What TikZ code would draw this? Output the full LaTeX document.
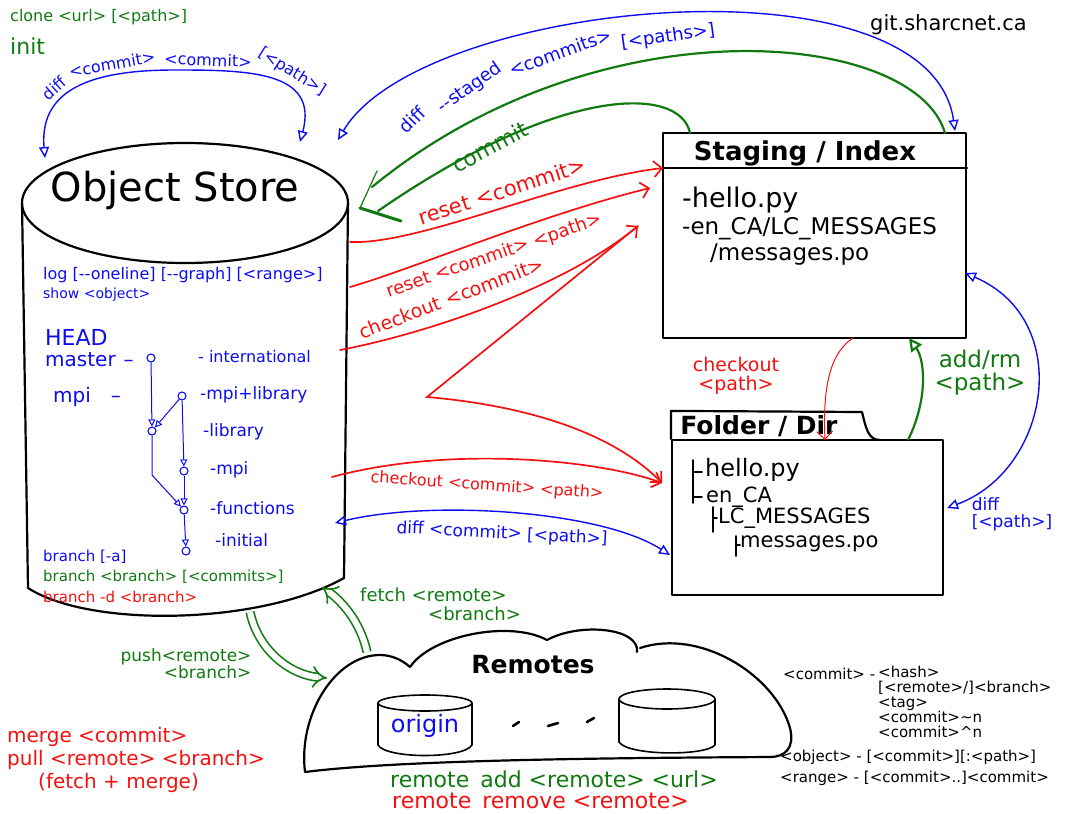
\documentclass[tikz,border=0pt]{standalone}
\usepackage{fontspec}
\setmainfont{DejaVu Sans}
\usepackage{xcolor}
\usepackage{tikz}
\usetikzlibrary{arrows.meta,calc,positioning}
\definecolor{inkblue}{RGB}{12,12,240}
\definecolor{inkgreen}{RGB}{16,122,16}
\definecolor{inkred}{RGB}{245,16,16}
\newcommand{\penfont}[1]{\fontsize{#1}{#1}\selectfont}

\begin{document}
\begin{tikzpicture}[x=1pt,y=-1pt,
    outline/.style={line width=2.2pt,line cap=round,line join=round},
    thin outline/.style={line width=1.6pt,line cap=round,line join=round},
    pen/.style={inner sep=0pt,anchor=west},
    blue pen/.style={pen,text=inkblue},
    green pen/.style={pen,text=inkgreen},
    red pen/.style={pen,text=inkred},
    blue word/.style={inner sep=0pt,text=inkblue},
    blue arrow/.style={inkblue,line width=1.4pt,-{Triangle[open,length=11pt,width=10pt]}},
    blue both/.style={blue arrow,{Triangle[open,length=11pt,width=10pt]}-{Triangle[open,length=11pt,width=10pt]}},
    red arrow/.style={inkred,line width=1.7pt,line cap=round,-{Straight Barb[length=8pt,width=16pt]}},
    green arrow/.style={inkgreen,line width=2.2pt,-{Triangle[open,length=13pt,width=13pt]}},
    green line/.style={inkgreen,line width=2.2pt,line cap=round},
    green pipe/.style={inkgreen,line width=1.6pt,double=white,double distance=6pt,-Implies},
    commit/.style={circle,draw=inkblue,line width=1.1pt,minimum size=8pt,inner sep=0pt,fill=white},
    graph edge/.style={inkblue,line width=1pt,-{Triangle[open,length=7pt,width=7pt]}}]

\useasboundingbox (0,0) rectangle (1074,814);

% object store
\draw[outline] (185,203) ellipse [x radius=163pt,y radius=60pt];
\draw[outline] (22,203) -- (28,588) .. controls (90,628) and (260,625) .. (344,578) -- (348,203);
\node[font=\penfont{40}] (os) at (175,190) {Object Store};

\coordinate (os-t1) at (45,158);
\coordinate (os-t2) at (300,142);
\coordinate (os-t3) at (338,140);
\coordinate (os-r1) at (350,242);
\coordinate (os-r2) at (350,287);
\coordinate (os-r3) at (340,350);
\coordinate (os-r4) at (332,477);
\coordinate (os-r5) at (335,523);
\coordinate (os-b1) at (250,612);
\coordinate (os-b2) at (322,587);

\node[blue pen,font=\penfont{16}] (log) at (43,275) {log [-{}-oneline] [-{}-graph] [<range>]};
\node[blue pen,font=\penfont{14}] (show) at (43,295) {show <object>};
\node[blue pen,font=\penfont{22}] (head) at (45,337) {HEAD};
\node[blue pen,font=\penfont{20}] (master) at (45,360) {master\hspace{8pt}–};
\node[blue pen,font=\penfont{20}] (mpi) at (53,397) {mpi\hspace{20pt}–};

\node[commit] (c1) at (151,358) {};
\node[commit] (c2) at (182,396) {};
\node[commit] (c3) at (152,431) {};
\node[commit] (c4) at (184,471) {};
\node[commit] (c5) at (184,510) {};
\node[commit] (c6) at (186,551) {};
\coordinate (c3-down) at (152,475);

\draw[graph edge] (c1) -- (c3);
\draw[graph edge] (c2) -- (c3);
\draw[graph edge] (c2) -- (c4);
\draw[graph edge] (c3) -- (c3-down) -- (c5);
\draw[graph edge] (c4) -- (c5);
\draw[graph edge] (c5) -- (c6);

\node[blue pen,font=\penfont{16}] (l-intl) at (198,357) {- international};
\node[blue pen,font=\penfont{17}] (l-mpilib) at (200,395) {-mpi+library};
\node[blue pen,font=\penfont{17}] (l-lib) at (203,432) {-library};
\node[blue pen,font=\penfont{17}] (l-mpi) at (210,470) {-mpi};
\node[blue pen,font=\penfont{17}] (l-func) at (210,508) {-functions};
\node[blue pen,font=\penfont{17}] (l-init) at (215,540) {-initial};

\node[blue pen,font=\penfont{15}] (br-list) at (43,557) {branch [-a]};
\node[green pen,font=\penfont{15}] (br-new) at (43,577) {branch <branch> [<commits>]};
\node[red pen,font=\penfont{15}] (br-del) at (43,597) {branch -d <branch>};

% staging
\node[draw,outline,minimum width=303pt,minimum height=205pt] (stage) at (814.5,235.5) {};
\draw[outline] ($(stage.north west)+(0,36)$) -- ($(stage.north east)+(0,36)$);
\node[font=\penfont{26}\bfseries] (stage-title) at (805,153) {Staging / Index};
\node[pen,font=\penfont{27}] (s-hello) at (682,200) {-hello.py};
\node[pen,font=\penfont{23}] (s-locale) at (682,229) {-en\_CA/LC\_MESSAGES};
\node[pen,font=\penfont{23}] (s-po) at (710,255) {/messages.po};

\coordinate (stage-t1) at (690,133);
\coordinate (stage-t2) at (945,133);
\coordinate (stage-t3) at (955,131);
\coordinate (stage-l1) at (663,168);
\coordinate (stage-l2) at (650,188);
\coordinate (kink) at (638,226);
\coordinate (stage-b1) at (853,338);
\coordinate (stage-b2) at (909,338);
\coordinate (stage-r) at (965,273);

% folder
\node[draw,outline,minimum width=271pt,minimum height=155pt] (folder) at (807.5,517.5) {};
\draw[outline] (folder.north west) -- ++(0,-28) -- (862,412) .. controls (866,428) and (868,440) .. (880,440);
\node[font=\penfont{25}\bfseries] (folder-title) at (759,426) {Folder / Dir};
\draw[thin outline] (693,460) -- (693,503) (693,472) -- (702,472) (693,497) -- (702,497);
\draw[thin outline] (713,507) -- (713,532) (713,518) -- (717,518);
\draw[thin outline] (736,536) -- (736,556) (736,545) -- (740,545);
\node[pen,font=\penfont{24}] (f-hello) at (705,470) {hello.py};
\node[pen,font=\penfont{21}] (f-en) at (706,497) {en\_CA};
\node[pen,font=\penfont{21}] (f-lc) at (718,518) {LC\_MESSAGES};
\node[pen,font=\penfont{21}] (f-po) at (740,544) {messages.po};

\coordinate (folder-t1) at (825,440);
\coordinate (folder-t2) at (908,440);
\coordinate (folder-l1) at (662,483);
\coordinate (folder-l2) at (670,555);
\coordinate (folder-r) at (947,508);
\coordinate (zig) at (427,397);

% remotes
\draw[outline] (305,772) .. controls (298,715) and (335,655) .. (380,655) .. controls (392,655) and (402,660) .. (410,667)
  (410,667) .. controls (432,635) and (510,620) .. (547,640) .. controls (580,622) and (640,628) .. (637,652)
  (640,648) .. controls (700,628) and (775,675) .. (790,728) .. controls (795,748) and (785,757) .. (770,757)
  .. controls (600,758) and (400,760) .. (305,772);
\node[font=\penfont{25}\bfseries] (remotes) at (533,665) {Remotes};
\draw[thin outline] (425,703) ellipse [x radius=47pt,y radius=8pt];
\draw[thin outline] (378,703) -- (378,745) .. controls (386,759) and (464,759) .. (472,745) -- (472,703);
\node[text=inkblue,font=\penfont{24}] (origin) at (425,726) {origin};
\draw[thin outline] (667,699) ellipse [x radius=48pt,y radius=10pt];
\draw[thin outline] (619,699) -- (619,742) .. controls (628,756) and (706,756) .. (715,745) -- (715,699);
\draw[line width=2.6pt,line cap=round] (513,726) -- (519,722) (548,726) -- (558,723) (587,722) -- (594,718);
\coordinate (cloud-l) at (327,678);
\coordinate (cloud-t) at (367,652);

% connectors
\coordinate (d1-peak) at (175,70);
\draw[blue both] (os-t1) to[out=95,in=180,looseness=1.2] (d1-peak) to[out=0,in=75,looseness=1.3] (os-t2);
\node[blue word,font=\penfont{16},rotate=42] (d1-diff) at (54,88) {diff};
\node[blue word,font=\penfont{16},rotate=10] (d1-a) at (112,64) {<commit>};
\node[blue word,font=\penfont{16},rotate=-2] (d1-b) at (208,60) {<commit>};
\node[blue word,font=\penfont{16},rotate=-32] (d1-path) at (292,72) {[<path>]};

\draw[blue both] (os-t3) .. controls (420,0) and (930,-50) .. (stage-t3);
\node[blue word,font=\penfont{18},rotate=45] (d2-diff) at (412,120) {diff};
\node[blue word,font=\penfont{18},rotate=35] (d2-staged) at (470,88) {-{}-staged};
\node[blue word,font=\penfont{18},rotate=20] (d2-commits) at (560,52) {<commits>};
\node[blue word,font=\penfont{18},rotate=8] (d2-paths) at (668,37) {[<paths>]};

\coordinate (cm-tip) at (360,208);
\coordinate (cm-a) at (377,171);
\coordinate (cm-b) at (401,221);
\coordinate (cm-out) at (372,187);
\coordinate (cm-in) at (378,211);
\draw[green line] (stage-t2) .. controls (915,30) and (600,0) .. (cm-out);
\draw[green line] (stage-t1) .. controls (680,85) and (560,85) .. (cm-in);
\draw[green line,line width=1.2pt] (cm-a) -- (cm-tip);
\draw[green line,line width=3pt] (cm-tip) -- (cm-b);
\node[text=inkgreen,font=\penfont{22},rotate=28] (commit-lbl) at (490,147) {commit};

\draw[red arrow] (os-r1) .. controls (420,245) and (560,180) .. (stage-l1);
\node[text=inkred,font=\penfont{21},rotate=18] (reset-lbl) at (502,191) {reset <commit>};
\draw[red arrow] (os-r2) .. controls (410,270) and (540,215) .. (stage-l2);
\node[text=inkred,font=\penfont{18},rotate=19] (resetp-lbl) at (494,256) {reset <commit> <path>};
\draw[red arrow] (os-r3) .. controls (420,335) and (560,290) .. (kink);
\node[text=inkred,font=\penfont{19},rotate=21] (co-lbl) at (451,298) {checkout <commit>};
\draw[red arrow] (kink) -- (zig) .. controls (520,405) and (610,430) .. (folder-l1);

\draw[red arrow] (os-r4) .. controls (450,445) and (600,460) .. (folder-l1);
\node[text=inkred,font=\penfont{16},rotate=-4] (cop-lbl) at (487,486) {checkout <commit> <path>};
\draw[blue both] (os-r5) .. controls (430,500) and (600,510) .. (folder-l2);
\node[text=inkblue,font=\penfont{17},rotate=-3] (diffc-lbl) at (502,534) {diff <commit> [<path>]};

\draw[red arrow,line width=1pt] (stage-b1) .. controls (835,350) and (822,375) .. (folder-t1);
\node[text=inkred,font=\penfont{19},align=center] (cop2-lbl) at (736,376) {checkout\\<path>};
\draw[green arrow] (folder-t2) .. controls (928,400) and (925,360) .. (stage-b2);
\node[text=inkgreen,font=\penfont{23},align=center] (add-lbl) at (980,373) {add/rm\\<path>};
\draw[blue both] (folder-r) .. controls (1050,470) and (1075,320) .. (stage-r);
\node[text=inkblue,font=\penfont{17},align=left] (diffp-lbl) at (1012,514) {diff\\{[}<path>]};

\draw[green pipe] (os-b1) .. controls (258,650) and (290,675) .. (cloud-l);
\node[text=inkgreen,font=\penfont{17},align=right,anchor=north east] (push-lbl) at (255,645) {push<remote>\\<branch>};
\draw[green pipe] (cloud-t) .. controls (360,620) and (340,600) .. (os-b2);
\node[green pen,font=\penfont{18}] (fetch-lbl) at (360,595) {fetch <remote>};
\node[green pen,font=\penfont{18}] (fetchb-lbl) at (428,614) {<branch>};

% loose text
\node[green pen,font=\penfont{16}] (clone) at (10,17) {clone <url> [<path>]};
\node[green pen,font=\penfont{22}] (init) at (10,46) {init};
\node[pen,font=\penfont{21}] (site) at (870,25) {git.sharcnet.ca};
\node[red pen,font=\penfont{20}] (merge) at (7,737) {merge <commit>};
\node[red pen,font=\penfont{20}] (pull) at (7,760) {pull <remote> <branch>};
\node[red pen,font=\penfont{20}] (fetchmerge) at (38,783) {(fetch + merge)};
\node[green pen,font=\penfont{22}] (radd) at (390,779) {remote\enspace add <remote> <url>};
\node[red pen,font=\penfont{22}] (rrm) at (392,801) {remote\enspace remove <remote>};

\node[pen,font=\penfont{15}] (ref-commit) at (783,674) {<commit> -};
\node[pen,font=\penfont{15},anchor=north west,align=left] (ref-forms) at (878,666)
  {<hash>\\{[}<remote>/]<branch>\\<tag>\\<commit>\textasciitilde n\\<commit>\textasciicircum n};
\node[pen,font=\penfont{15}] (ref-object) at (780,757) {<object> - [<commit>][:<path>]};
\node[pen,font=\penfont{15}] (ref-range) at (780,778) {<range> - [<commit>..]<commit>};
\end{tikzpicture}
\end{document}
